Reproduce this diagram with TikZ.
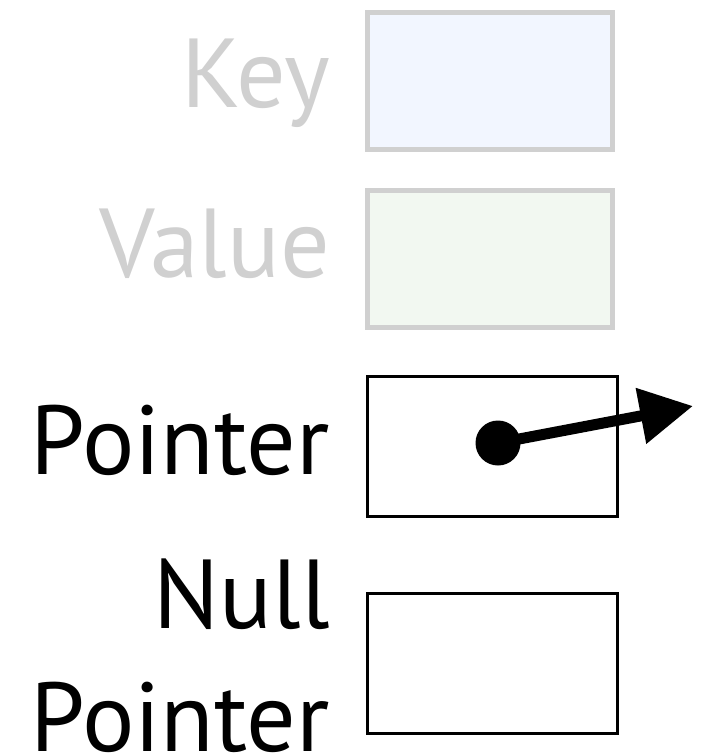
\documentclass[tikz,border=0pt]{standalone}
\usepackage{fontspec}
\setmainfont{PT Sans}
\usetikzlibrary{arrows.meta}
\definecolor{lightgrey}{HTML}{D0D0D0}
\definecolor{keyfill}{HTML}{F2F6FF}
\definecolor{valfill}{HTML}{F2F8F1}
\tikzset{
  lbl/.style={anchor=base east, inner sep=0pt, font=\fontsize{98}{98}\selectfont},
  greylbl/.style={lbl, text=lightgrey},
  greybox/.style={draw=lightgrey, line width=5pt, minimum width=245pt, minimum height=137pt, inner sep=0pt},
  blackbox/.style={draw=black, line width=3pt, minimum width=250pt, minimum height=140pt, inner sep=0pt},
}
\begin{document}
\begin{tikzpicture}[x=1pt,y=-1pt]
\useasboundingbox (0,0) rectangle (709,756);
\node[greylbl] (keylbl) at (330,107) {Key};
\node[greylbl] (vallbl) at (330,277) {Value};
\node[lbl] (ptrlbl) at (330,474) {Pointer};
\node[lbl] (nulllbl) at (330,628) {Null};
\node[lbl] (nullptrlbl) at (330,751) {Pointer};
\node[greybox, fill=keyfill] (keybox) at (490,80.5) {};
\node[greybox, fill=valfill] (valbox) at (490,259) {};
\node[blackbox] (ptrbox) at (492.5,446.5) {};
\node[blackbox] (nullbox) at (492.5,663) {};
\node[circle, fill=black, inner sep=0pt, minimum size=45pt] (dot) at (498,443) {};
\coordinate (tip) at (693,406);
\draw[line width=11pt, -{Triangle[length=53pt,width=54pt]}] (dot.center) -- (tip);
\end{tikzpicture}
\end{document}
